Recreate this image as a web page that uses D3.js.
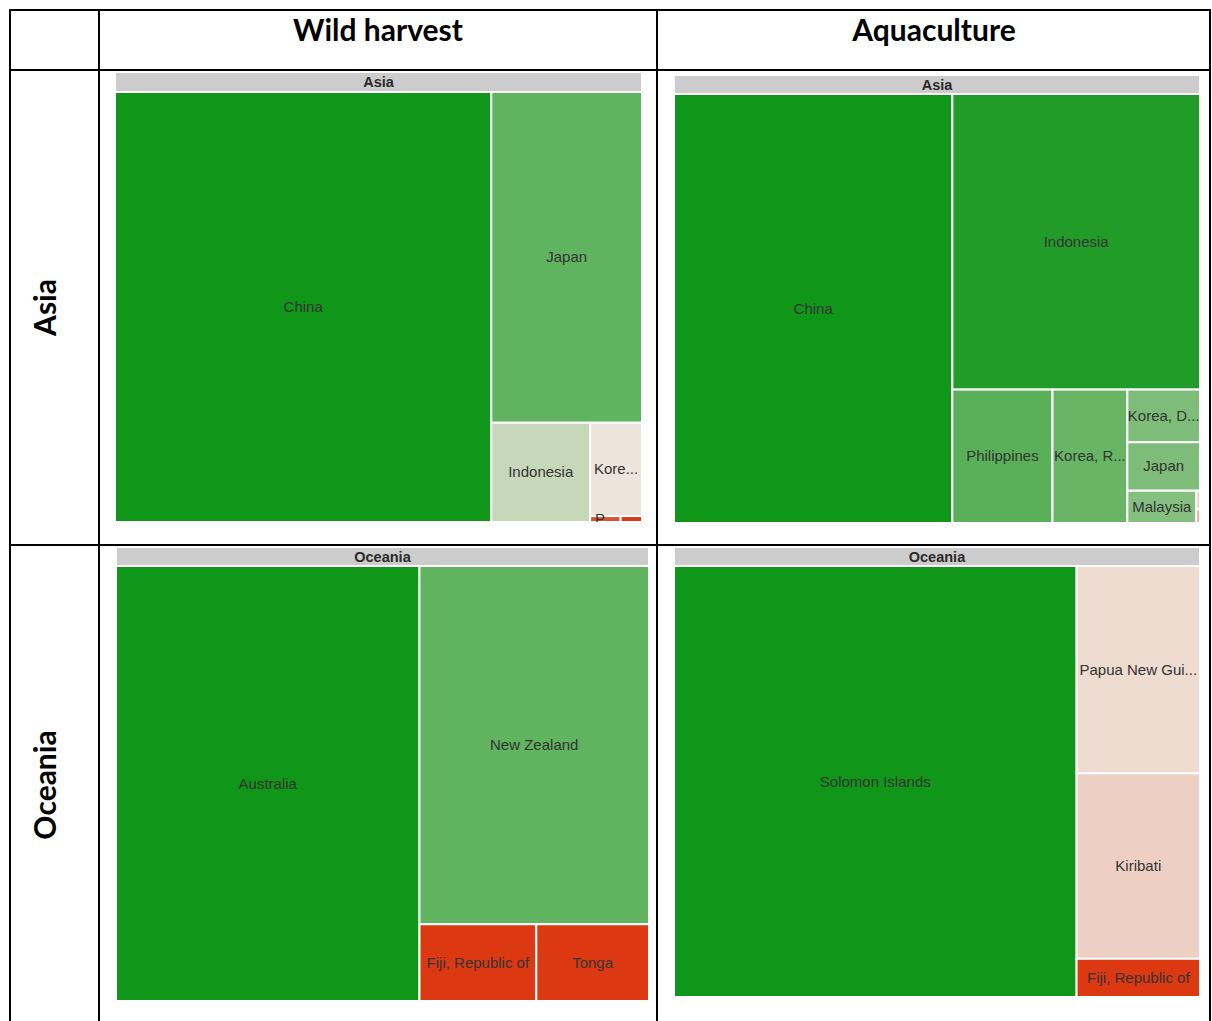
<!DOCTYPE html>
<html>
<head>
<meta charset="utf-8">
<script src="https://cdn.jsdelivr.net/npm/d3@7"></script>
<style>
  html, body { margin: 0; padding: 0; background: #fff; }
  svg { display: block; }
</style>
</head>
<body>
<svg id="chart" width="1212" height="1021"></svg>
<script>
// Table headings
const columnHeadings = ["Wild harvest", "Aquaculture"];
const rowHeadings = ["Asia", "Oceania"];

// Asia, wild harvest (production, '000 t) and colour metric (-1 decline .. +1 growth)
const asiaWildNames  = ["China", "Japan", "Indonesia", "Korea, Republic of", "Philippines", "Malaysia"];
const asiaWildValues = [1617, 498, 98, 48.4, 1.8, 1.26];
const asiaWildColour = [1, 0.64, 0.18, 0.01, -0.86, -1];

// Asia, aquaculture
const asiaAquaNames  = ["China", "Indonesia", "Philippines", "Korea, Republic of", "Korea, Dem. People's Rep", "Japan", "Malaysia", "Viet Nam", "Thailand"];
const asiaAquaValues = [1186, 727, 132.7, 99.2, 38, 35, 22.1, 0.7, 0.5];
const asiaAquaColour = [1, 0.92, 0.67, 0.61, 0.51, 0.51, 0.47, -0.1, -0.35];

// Oceania, wild harvest
const oceaniaWildNames  = ["Australia", "New Zealand", "Fiji, Republic of", "Tonga"];
const oceaniaWildValues = [1315, 819, 89.3, 86.2];
const oceaniaWildColour = [1, 0.64, -1, -1];

// Oceania, aquaculture
const oceaniaAquaNames  = ["Solomon Islands", "Papua New Guinea", "Kiribati", "Fiji, Republic of"];
const oceaniaAquaValues = [1729, 255, 228, 47];
const oceaniaAquaColour = [1, -0.06, -0.13, -1];

const svg = d3.select("#chart");

// Diverging colour scale: red (decline) -> pale -> green (growth)
const colour = d3.scaleLinear()
  .domain([-1, 0, 1])
  .range(["#dc3912", "#efe6dd", "#109618"])
  .interpolate(d3.interpolateRgb);

// ---- table grid ----
const grid = svg.append("g").attr("stroke", "#000").attr("stroke-width", 2);
[10, 70, 545].forEach(y => grid.append("line").attr("x1", 9).attr("x2", 1211).attr("y1", y).attr("y2", y));
[10, 99, 657, 1210].forEach(x => grid.append("line").attr("x1", x).attr("x2", x).attr("y1", 9).attr("y2", 1021));

const headFont = "Lato, 'Open Sans', sans-serif";
svg.selectAll("text.colhead").data(columnHeadings).join("text")
  .attr("class", "colhead")
  .attr("x", (d, i) => [378, 934][i])
  .attr("y", 41)
  .attr("text-anchor", "middle")
  .attr("font-family", headFont)
  .attr("font-weight", 700)
  .attr("font-size", 30)
  .attr("fill", "#000")
  .text(d => d);

svg.selectAll("text.rowhead").data(rowHeadings).join("text")
  .attr("class", "rowhead")
  .attr("transform", (d, i) => `translate(56,${[307.5, 785][i]}) rotate(-90)`)
  .attr("text-anchor", "middle")
  .attr("font-family", headFont)
  .attr("font-weight", 700)
  .attr("font-size", 30)
  .attr("fill", "#000")
  .text(d => d);

// ---- treemaps ----
const panels = [
  { id: "aw", title: rowHeadings[0], names: asiaWildNames, values: asiaWildValues, colours: asiaWildColour,
    x0: 115, x1: 642, hy: 72, y0: 92, y1: 522 },
  { id: "aa", title: rowHeadings[0], names: asiaAquaNames, values: asiaAquaValues, colours: asiaAquaColour,
    x0: 674, x1: 1200, hy: 75, y0: 94, y1: 523 },
  { id: "ow", title: rowHeadings[1], names: oceaniaWildNames, values: oceaniaWildValues, colours: oceaniaWildColour,
    x0: 116, x1: 649, hy: 547, y0: 566, y1: 1001 },
  { id: "oa", title: rowHeadings[1], names: oceaniaAquaNames, values: oceaniaAquaValues, colours: oceaniaAquaColour,
    x0: 674, x1: 1200, hy: 547, y0: 566, y1: 997 }
];

const labelFont = "'Liberation Sans', Arial, sans-serif";
const defs = svg.append("defs");

panels.forEach(p => {
  const w = p.x1 - p.x0, h = p.y1 - p.y0;
  const data = {
    name: p.title,
    children: p.names.map((n, i) => ({ name: n, value: p.values[i], colour: p.colours[i] }))
  };
  const root = d3.hierarchy(data).sum(d => d.value || 0).sort((a, b) => b.value - a.value);
  d3.treemap().tile(d3.treemapSquarify.ratio(1)).size([w, h]).round(false)(root);

  defs.append("clipPath").attr("id", "clip-" + p.id)
    .append("rect").attr("x", p.x0 - 1).attr("y", p.hy - 1).attr("width", w + 2).attr("height", p.y1 - p.hy + 1);

  const g = svg.append("g").attr("clip-path", `url(#clip-${p.id})`);

  // header bar
  g.append("rect")
    .attr("x", p.x0).attr("y", p.hy).attr("width", w).attr("height", p.y0 - p.hy)
    .attr("fill", "#cccccc").attr("stroke", "#fff").attr("stroke-width", 2);
  g.append("text")
    .attr("x", p.x0 + w / 2).attr("y", (p.hy + p.y0) / 2 + 5)
    .attr("text-anchor", "middle")
    .attr("font-family", labelFont).attr("font-weight", 700).attr("font-size", 14.5)
    .attr("fill", "#2a2a2a")
    .text(p.title);

  const leaves = root.leaves();
  const cell = g.append("g").attr("transform", `translate(${p.x0},${p.y0})`)
    .selectAll("g").data(leaves).join("g");

  cell.append("rect")
    .attr("x", d => d.x0).attr("y", d => d.y0)
    .attr("width", d => d.x1 - d.x0).attr("height", d => d.y1 - d.y0)
    .attr("fill", d => colour(d.data.colour))
    .attr("stroke", "#fff").attr("stroke-width", 2);

  // centred labels, shortened with "..." when the cell is too narrow
  cell.append("text")
    .attr("x", d => (d.x0 + d.x1) / 2)
    .attr("y", d => (d.y0 + d.y1) / 2 + 5)
    .attr("text-anchor", "middle")
    .attr("font-family", labelFont).attr("font-size", 15)
    .attr("fill", "#333")
    .each(function (d) {
      const el = d3.select(this);
      const avail = d.x1 - d.x0 - 0.5;
      const name = d.data.name;
      el.text(name);
      if (this.getComputedTextLength() <= avail) return;
      for (let k = name.length - 1; k >= 1; k--) {
        el.text(name.slice(0, k) + "...");
        if (this.getComputedTextLength() <= avail) return;
      }
      el.text("");
    });
});
</script>
</body>
</html>
